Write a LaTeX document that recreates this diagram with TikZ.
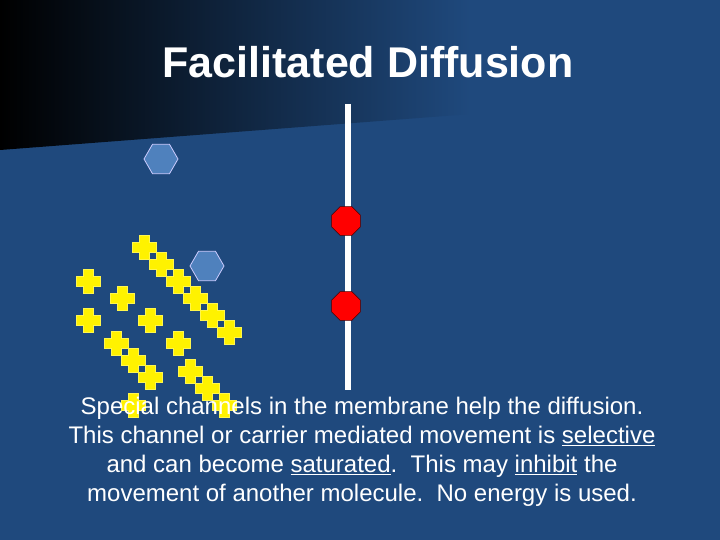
\documentclass[tikz,border=0pt]{standalone}
\usepackage{fontspec}
\setmainfont{Liberation Sans}
\usetikzlibrary{shapes.geometric}
\begin{document}
\begin{tikzpicture}[x=1pt,y=-1pt,
  hexa/.style={regular polygon,regular polygon sides=6,minimum size=34pt,inner sep=0pt,fill={rgb,255:red,79;green,129;blue,189},draw=white!80!blue,line width=0.8pt},
  octo/.style={regular polygon,regular polygon sides=8,minimum size=31pt,inner sep=0pt,fill=red,draw=black!70!red,line width=0.6pt},
  cross/.pic={\fill[yellow,draw=yellow!70!white,line width=0.4pt] (-12,-5)--(-5,-5)--(-5,-12)--(5,-12)--(5,-5)--(12,-5)--(12,5)--(5,5)--(5,12)--(-5,12)--(-5,5)--(-12,5)--cycle;}]
\definecolor{bg}{RGB}{31,73,125}
\useasboundingbox (0,0) rectangle (720,540);
\fill[bg] (0,0) rectangle (720,540);
\begin{scope}
\clip (0,0)--(720,0)--(720,95)--(0,150)--cycle;
\shade[left color=black,right color=bg] (0,0) rectangle (470,150);
\end{scope}
\node[text=white,font=\bfseries\fontsize{43}{50}\selectfont] (title) at (368,62) {Facilitated Diffusion};
\draw[white,line width=6pt] (348,104) coordinate (mt) -- (348,390) coordinate (mb);
\node[octo] (r1) at (346,221) {};
\node[octo] (r2) at (346,306) {};
\node[hexa] (h1) at (161,159) {};
\node[hexa] (h2) at (207,266) {};
\foreach \x/\y in {144/247,161/264,178/281,195/298,212/315,229/332,88/281,122/298,88/320,150/320,178/343,116/343,133/360,150/377,190/371,207/388,224/405,133/405}
  \pic at (\x,\y) {cross};
\node[text=white,align=center,font=\fontsize{24}{29}\selectfont] (txt) at (362,452) {Special channels in the membrane help the diffusion.\\This channel or carrier mediated movement is \underline{selective}\\and can become \underline{saturated}.\ \ This may \underline{inhibit} the\\movement of another molecule.\ \ No energy is used.};
\end{tikzpicture}
\end{document}
